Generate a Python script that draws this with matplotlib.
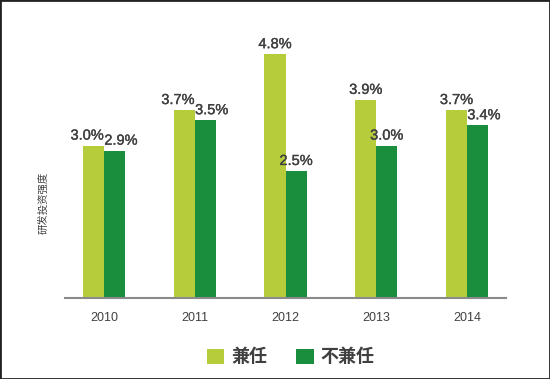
import matplotlib
matplotlib.use('Agg')
import matplotlib.pyplot as plt
import matplotlib.patheffects as pe
import numpy as np
from matplotlib.patches import Rectangle

plt.rcParams['font.family'] = ['Liberation Sans', 'Noto Sans CJK SC', 'DejaVu Sans']

years = ['2010', '2011', '2012', '2013', '2014']
jianren = [3.0, 3.7, 4.8, 3.9, 3.7]
bujianren = [2.9, 3.5, 2.5, 3.0, 3.4]
series_names = ['兼任', '不兼任']

light = '#b6cc3a'
dark = '#1b8e3e'
txt = '#404040'

fig = plt.figure(figsize=(5.5, 3.79), dpi=100, facecolor='white')
ax = fig.add_axes([65 / 550, 1 - 298 / 379, 441 / 550, 258 / 379])

x = np.arange(len(years))
w = 0.232
b1 = ax.bar(x - w / 2, jianren, w, color=light, label=series_names[0])
b2 = ax.bar(x + w / 2, bujianren, w, color=dark, label=series_names[1])

thick = [pe.withStroke(linewidth=0.25, foreground=txt)]
for xi, a, b in zip(x, jianren, bujianren):
    d = abs(a - b)
    # push the two labels apart when the bars are about the same height
    la = -0.07 if d < 0.25 else 0.0
    lb = 0.07 if d < 0.5 else 0.0
    ax.text(xi - w / 2 + la, a + 0.06, f'{a:.1f}%', ha='center', va='bottom',
            fontsize=10.5, color=txt, path_effects=thick)
    ax.text(xi + w / 2 + lb, b + 0.06, f'{b:.1f}%', ha='center', va='bottom',
            fontsize=10.5, color=txt, path_effects=thick)

ax.set_xlim(-0.43, len(years) - 1 + 0.43)
ax.set_ylim(0, 5.08)
ax.set_xticks(x)
ax.set_xticklabels(years, fontsize=9, color=txt)
ax.tick_params(axis='x', length=0, pad=10)
ax.set_yticks([])
for s in ['top', 'right', 'left']:
    ax.spines[s].set_visible(False)
ax.spines['bottom'].set_color('#8a8a8a')
ax.spines['bottom'].set_linewidth(1.5)

fig.text(43.5 / 550, 1 - 203 / 379, '研发投资强度', rotation=90, ha='center', va='center',
         fontsize=7.5, color=txt, family=['Noto Sans CJK SC'])

leg = fig.legend(handles=[b1, b2], loc='center', bbox_to_anchor=(291 / 550, 1 - 357 / 379),
                 ncol=2, frameon=False, handlelength=0.95, handleheight=0.95,
                 handletextpad=0.4, columnspacing=1.6,
                 prop={'family': ['Noto Sans CJK SC'], 'size': 13, 'weight': 'bold'})
for t in leg.get_texts():
    t.set_color(txt)

fig.patches.append(Rectangle((0, 0), 1, 1, transform=fig.transFigure, fill=False,
                             edgecolor='#222222', linewidth=2))

fig.savefig('out.png', dpi=100, facecolor='white')
